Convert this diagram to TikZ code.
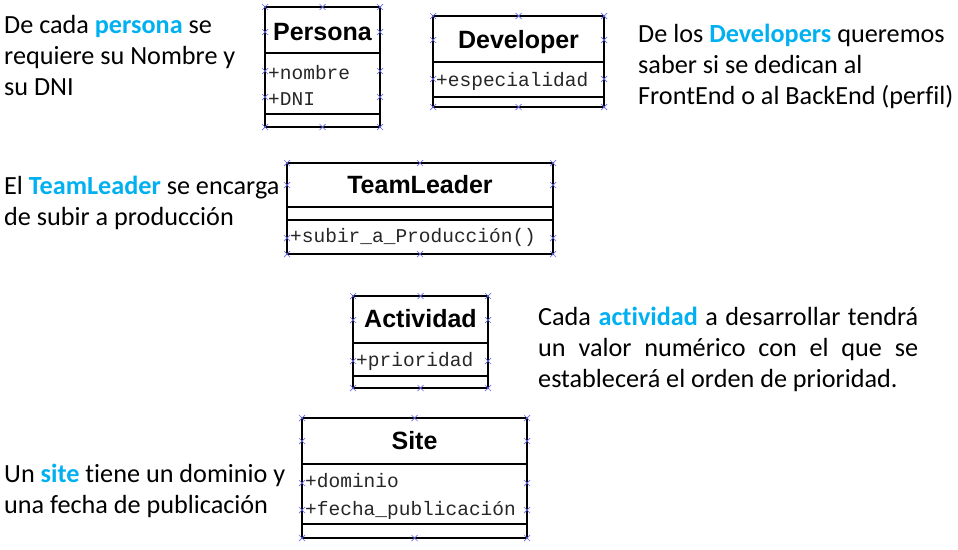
\documentclass[tikz,border=0pt]{standalone}
\usepackage{fontspec}
\setmainfont{Carlito}[Ligatures=NoCommon]
\newfontfamily\titulo{Liberation Sans}
\newfontfamily\atrib{Liberation Mono}
\usepackage{tikz}
\definecolor{celeste}{RGB}{0,176,240}
\definecolor{asas}{RGB}{105,105,235}
\newcommand{\resalta}[1]{\textcolor{celeste}{\textbf{#1}}}
\tikzset{
	clase/.style={line width=2.6pt},
	asa/.pic={\draw[asas,line width=0.7pt] (-3,-3) -- (3,3) (-3,3) -- (3,-3);},
	nom/.style={font=\titulo\bfseries\fontsize{25}{30}\selectfont, anchor=base, inner sep=0},
	attr/.style={font=\atrib\fontsize{19.5}{24}\selectfont, anchor=base west, inner sep=0, text=black!85},
	nota/.style={font=\fontsize{26.2}{31}\selectfont, anchor=base west, inner sep=0, align=left},
}

\begin{document}
\begin{tikzpicture}[x=1pt,y=-1pt]
	\useasboundingbox (0,0) rectangle (958,549);
	\draw[clase] (265,7) rectangle (380,127) (265,53) -- (380,53) (265,114) -- (380,114);
	\node[nom] at (322.5,40) (persona) {Persona};
	\node[attr] at (268,79) (nombre) {+nombre};
	\node[attr] at (268,105) (dni) {+DNI};
	\foreach \y in {7,127} \foreach \x in {265,322.5,380} \pic at (\x,\y) {asa};
	\foreach \y in {32,71,97} \foreach \x in {265,380} \pic at (\x,\y) {asa};

	\draw[clase] (433,16) rectangle (604,107) (433,62) -- (604,62) (433,97) -- (604,97);
	\node[nom] at (518.5,48) (developer) {Developer};
	\node[attr] at (436,86) (especialidad) {+especialidad};
	\foreach \y in {16,107} \foreach \x in {433,518.5,604} \pic at (\x,\y) {asa};
	\foreach \y in {40,79} \foreach \x in {433,604} \pic at (\x,\y) {asa};

	\draw[clase] (287,163) rectangle (553,254) (287,207) -- (553,207) (287,220) -- (553,220);
	\node[nom] at (420,193) (teamleader) {TeamLeader};
	\node[attr] at (290,242) (subir) {+subir\_a\_Producción()};
	\foreach \y in {163,254} \foreach \x in {287,420,553} \pic at (\x,\y) {asa};
	\foreach \y in {185,238} \foreach \x in {287,553} \pic at (\x,\y) {asa};

	\draw[clase] (353,296) rectangle (488,388) (353,343) -- (488,343) (353,376) -- (488,376);
	\node[nom] at (420.5,327) (actividad) {Actividad};
	\node[attr] at (356,366) (prioridad) {+prioridad};
	\foreach \y in {296,388} \foreach \x in {353,420.5,488} \pic at (\x,\y) {asa};
	\foreach \y in {320,361} \foreach \x in {353,488} \pic at (\x,\y) {asa};

	\draw[clase] (302,418) rectangle (527,538) (302,464) -- (527,464) (302,524) -- (527,524);
	\node[nom] at (414.5,449) (site) {Site};
	\node[attr] at (305,487) (dominio) {+dominio};
	\node[attr] at (305,515) (fecha) {+fecha\_publicación};
	\foreach \y in {418,538} \foreach \x in {302,414.5,527} \pic at (\x,\y) {asa};
	\foreach \y in {441,483,510} \foreach \x in {302,527} \pic at (\x,\y) {asa};

	\node[nota] at (4,95) (npersona) {De cada \resalta{persona} se\\requiere su Nombre y\\su DNI};
	\node[nota] at (638,104) (ndeveloper) {De los \resalta{Developers} queremos\\saber si se dedican al\\FrontEnd o al BackEnd (perfil)};
	\node[nota] at (4,225) (nteamleader) {El \resalta{TeamLeader} se encarga\\de subir a producción};
	\node[nota, align=justify, text width=380pt] at (538,325) (nactividad) {Cada \resalta{actividad} a desarrollar tendrá\linebreak un valor numérico con el que se\linebreak establecerá el orden de prioridad.};
	\node[nota] at (4,513) (nsite) {Un \resalta{site} tiene un dominio y\\una fecha de publicación};
\end{tikzpicture}
\end{document}
